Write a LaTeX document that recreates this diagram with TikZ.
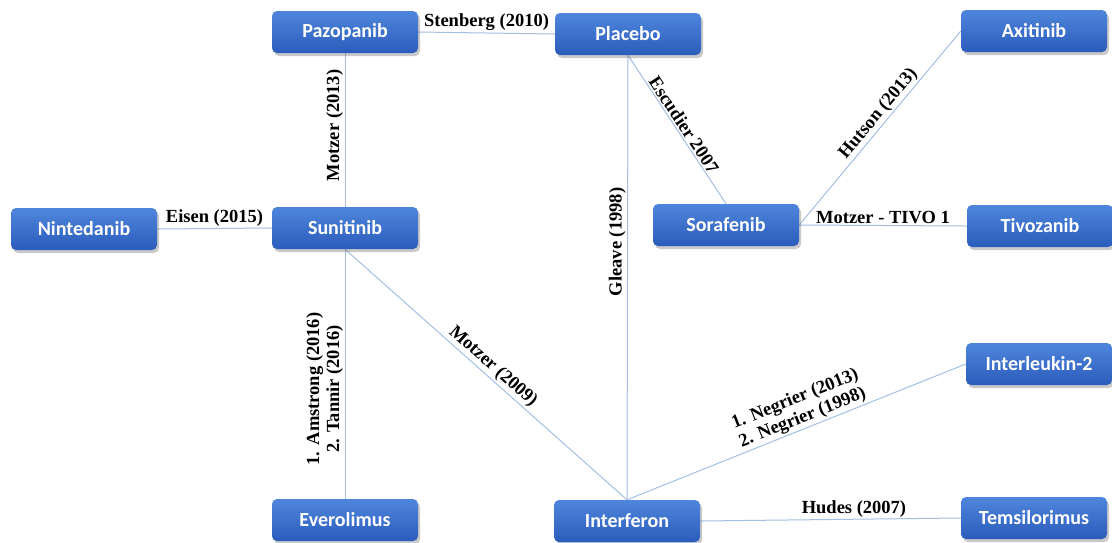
\documentclass[tikz,border=0pt]{standalone}
\usepackage{fontspec}
\setmainfont{Liberation Serif}
\newfontfamily\boxfont{Carlito}
\usetikzlibrary{shadows,backgrounds}
\definecolor{boxtop}{HTML}{4F86DC}
\definecolor{boxbot}{HTML}{2B5CBC}
\definecolor{linkblue}{HTML}{A3BFE4}
\tikzset{
  drug/.style={rounded corners=5pt, minimum width=146pt, minimum height=42pt,
    top color=boxtop, bottom color=boxbot, draw=none, text=white,
    font=\boxfont\bfseries\fontsize{20}{22}\selectfont,
    drop shadow={shadow xshift=2pt, shadow yshift=-3pt, opacity=0.35, fill=black!60}},
  link/.style={draw=linkblue, line width=1pt},
  ref/.style={font=\bfseries\fontsize{18.5}{20}\selectfont, inner sep=1.5pt, text=black},
}
\begin{document}
\begin{tikzpicture}[x=1pt,y=1pt]
\useasboundingbox (0,0) rectangle (1112,-542);

% drugs
\node[drug] (pazo)    at (345,-32)  {Pazopanib};
\node[drug] (placebo) at (628,-34)  {Placebo};
\node[drug] (axi)     at (1034,-31) {Axitinib};
\node[drug] (ninte)   at (84,-229)  {Nintedanib};
\node[drug] (suni)    at (345,-228) {Sunitinib};
\node[drug] (sora)    at (726,-225) {Sorafenib};
\node[drug] (tivo)    at (1040,-226){Tivozanib};
\node[drug] (il2)     at (1039,-364){Interleukin-2};
\node[drug] (evero)   at (345,-520) {Everolimus};
\node[drug] (interf)  at (627,-521) {Interferon};
\node[drug] (temsi)   at (1034,-518){Temsilorimus};

% trials linking the drugs, drawn beneath the boxes
\begin{scope}[on background layer]
\fill[white] (0,0) rectangle (1112,-542);
\draw[link] (pazo.east) -- node[ref,above]{Stenberg (2010)} (placebo.west);
\draw[link] (suni.north) -- node[ref,above,sloped,pos=0.53]{Motzer (2013)} (pazo.south);
\draw[link] (ninte.east) -- node[ref,above]{Eisen (2015)} (suni.west);
\draw[link] (evero.north) -- node[ref,above,sloped,pos=0.44,align=center]{1. Amstrong (2016)\\2. Tannir (2016)} (suni.south);
\draw[link] (suni.south) -- node[ref,above,sloped,pos=0.5]{Motzer (2009)} (interf.north);
\draw[link] (interf.north) -- node[ref,above,sloped,pos=0.58]{Gleave (1998)} (placebo.south);
\draw[link] (placebo.south) -- node[ref,above,sloped,pos=0.5]{Escudier 2007} (sora.north);
\draw[link] (sora.east) -- node[ref,above,sloped,pos=0.54]{Hutson (2013)} (axi.west);
\draw[link] (sora.east) -- node[ref,above]{Motzer - TIVO 1} (tivo.west);
\draw[link] (interf.north) -- node[ref,above,sloped,pos=0.53,align=center]{1. Negrier (2013)\\2. Negrier (1998)} (il2.west);
\draw[link] (interf.east) -- node[ref,above,pos=0.59]{Hudes (2007)} (temsi.west);
\end{scope}
\end{tikzpicture}
\end{document}
